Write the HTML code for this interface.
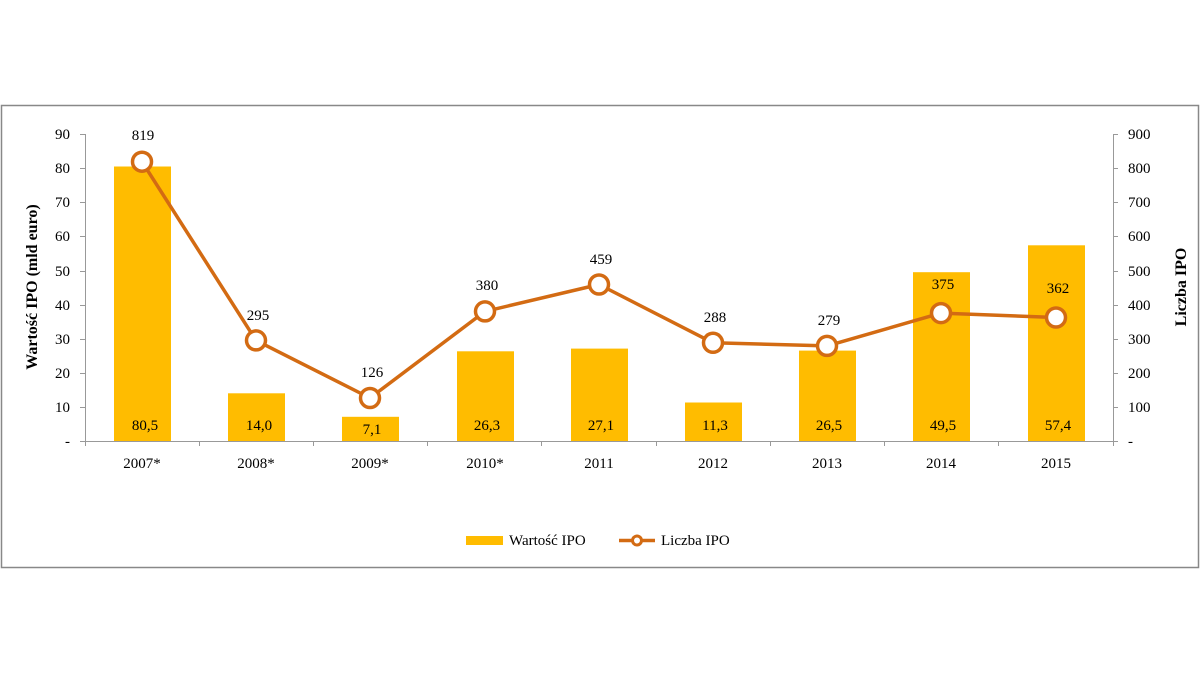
<!DOCTYPE html>
<html><head><meta charset="utf-8"><style>
body{margin:0;background:#fff;width:1200px;height:675px;overflow:hidden}
svg{font-family:"Liberation Serif",serif}
</style></head><body>
<svg width="1200" height="675" xmlns="http://www.w3.org/2000/svg">
<rect x="1.5" y="105.5" width="1197" height="462" fill="#fff" stroke="#888" stroke-width="1.5"/>
<g fill="#ffbc00">
<rect x="114" y="166.5" width="57" height="274.5"/>
<rect x="228" y="393.3" width="57" height="47.7"/>
<rect x="342" y="416.8" width="57" height="24.2"/>
<rect x="457" y="351.3" width="57" height="89.7"/>
<rect x="571" y="348.6" width="57" height="92.4"/>
<rect x="685" y="402.5" width="57" height="38.5"/>
<rect x="799" y="350.6" width="57" height="90.4"/>
<rect x="913" y="272.2" width="57" height="168.8"/>
<rect x="1028" y="245.3" width="57" height="195.7"/>
</g>
<g stroke="#999" stroke-width="1" fill="none">
<line x1="85.5" y1="134" x2="85.5" y2="441"/>
<line x1="1113.5" y1="134" x2="1113.5" y2="441"/>
<line x1="85" y1="441.5" x2="1114" y2="441.5"/>
<path d="M80 134.5h5M80 168.5h5M80 202.5h5M80 236.5h5M80 271.5h5M80 305.5h5M80 339.5h5M80 373.5h5M80 407.5h5M80 441.5h5"/>
<path d="M1113 134.5h5M1113 168.5h5M1113 202.5h5M1113 236.5h5M1113 271.5h5M1113 305.5h5M1113 339.5h5M1113 373.5h5M1113 407.5h5M1113 441.5h5"/>
<path d="M85.5 441v5M199.5 441v5M313.5 441v5M427.5 441v5M541.5 441v5M656.5 441v5M770.5 441v5M884.5 441v5M998.5 441v5M1113.5 441v5"/>
</g>
<g font-size="15" fill="#000" text-anchor="end">
<text x="70" y="139">90</text><text x="70" y="173">80</text><text x="70" y="207">70</text><text x="70" y="241">60</text><text x="70" y="276">50</text><text x="70" y="310">40</text><text x="70" y="344">30</text><text x="70" y="378">20</text><text x="70" y="412">10</text><text x="70" y="446">-</text>
</g>
<g font-size="15" fill="#000" text-anchor="start">
<text x="1128" y="139">900</text><text x="1128" y="173">800</text><text x="1128" y="207">700</text><text x="1128" y="241">600</text><text x="1128" y="276">500</text><text x="1128" y="310">400</text><text x="1128" y="344">300</text><text x="1128" y="378">200</text><text x="1128" y="412">100</text><text x="1128" y="446">-</text>
</g>
<text transform="translate(37 287) rotate(-90)" font-size="16" font-weight="bold" text-anchor="middle">Wartość IPO (mld euro)</text>
<text transform="translate(1186 287) rotate(-90)" font-size="16" font-weight="bold" text-anchor="middle">Liczba IPO</text>
<g font-size="15" text-anchor="middle">
<text x="142" y="468">2007*</text><text x="256" y="468">2008*</text><text x="370" y="468">2009*</text><text x="485" y="468">2010*</text><text x="599" y="468">2011</text><text x="713" y="468">2012</text><text x="827" y="468">2013</text><text x="941" y="468">2014</text><text x="1056" y="468">2015</text>
<text x="145" y="430">80,5</text><text x="259" y="430">14,0</text><text x="372" y="434">7,1</text><text x="487" y="430">26,3</text><text x="601" y="430">27,1</text><text x="715" y="430">11,3</text><text x="829" y="430">26,5</text><text x="943" y="430">49,5</text><text x="1058" y="430">57,4</text>
<text x="143" y="140">819</text><text x="258" y="320">295</text><text x="372" y="377">126</text><text x="487" y="290">380</text><text x="601" y="264">459</text><text x="715" y="322">288</text><text x="829" y="325">279</text><text x="943" y="289">375</text><text x="1058" y="293">362</text>
</g>
<polyline fill="none" stroke="#d36b13" stroke-width="3.5" stroke-linejoin="round" points="142,161.7 256,340.4 370,398 485,311.4 599,284.5 713,342.8 827,345.9 941,313.1 1056,317.5"/>
<g fill="#fff" stroke="#d36b13" stroke-width="3.5">
<circle cx="142" cy="161.7" r="9.5"/><circle cx="256" cy="340.4" r="9.5"/><circle cx="370" cy="398" r="9.5"/><circle cx="485" cy="311.4" r="9.5"/><circle cx="599" cy="284.5" r="9.5"/><circle cx="713" cy="342.8" r="9.5"/><circle cx="827" cy="345.9" r="9.5"/><circle cx="941" cy="313.1" r="9.5"/><circle cx="1056" cy="317.5" r="9.5"/>
</g>
<rect x="466" y="536" width="37" height="9" fill="#ffbc00"/>
<text x="509" y="545" font-size="15">Wartość IPO</text>
<line x1="619" y1="540.5" x2="655" y2="540.5" stroke="#d36b13" stroke-width="3.5"/>
<circle cx="637" cy="540.5" r="4.5" fill="#fff" stroke="#d36b13" stroke-width="3"/>
<text x="661" y="545" font-size="15">Liczba IPO</text>
</svg>
</body></html>
